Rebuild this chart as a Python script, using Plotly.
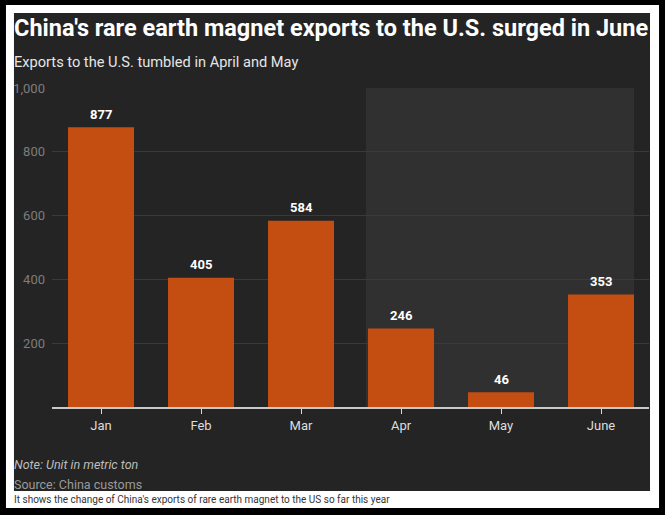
import plotly.graph_objects as go

# values
months = ["Jan", "Feb", "Mar", "Apr", "May", "June"]
exports = [877, 405, 584, 246, 46, 353]
y_ticks = [200, 400, 600, 800, 1000]
y_tick_text = ["200", "400", "600", "800", "1,000"]

BAR = "#C44D12"
PANEL = "#242424"
SHADE = "#303030"

fig = go.Figure()

fig.add_trace(go.Bar(
    x=months,
    y=exports,
    width=0.66,
    marker=dict(color=BAR, line=dict(width=0)),
    hoverinfo="x+y",
    showlegend=False
))

# value labels above bars
for m, v in zip(months, exports):
    fig.add_annotation(
        x=m, y=v, yshift=13, text="<b>%d</b>" % v, showarrow=False,
        font=dict(family="Roboto", size=13, color="white"),
        yanchor="middle"
    )

# white card and dark panel behind everything
fig.add_shape(type="rect", xref="paper", yref="paper",
              x0=-0.0771, x1=1.0168, y0=-0.3166, y1=1.2602,
              fillcolor="white", line_width=0, layer="below")
fig.add_shape(type="rect", xref="paper", yref="paper",
              x0=-0.0637, x1=1.0017, y0=-0.2633, y1=1.2351,
              fillcolor=PANEL, line_width=0, layer="below")

# highlighted period Apr-June
fig.add_shape(type="rect", xref="x", yref="y",
              x0=2.65, x1=5.33, y0=0, y1=1000,
              fillcolor=SHADE, line_width=0, layer="below")

def note(y, text, size, color, italic=False):
    fig.add_annotation(
        xref="paper", yref="paper", x=-0.067, y=y, xanchor="left", yanchor="middle",
        text=text, showarrow=False,
        font=dict(family="Roboto", size=size, color=color,
                  style="italic" if italic else "normal")
    )

note(1.188, "<b>China's rare earth magnet exports to the U.S. surged in June</b>", 23.5, "white")
note(1.0815, "Exports to the U.S. tumbled in April and May", 14.6, "#e6e6e6")
note(-0.1818, "Note: Unit in metric ton", 12.5, "#bdbdbd", italic=True)
note(-0.2414, "Source: China customs", 12.5, "#9a9a9a")
note(-0.2915, "It shows the change of China's exports of rare earth magnet to the US so far this year", 10, "#333333")

fig.update_layout(
    width=665, height=515,
    margin=dict(l=52, r=16, t=88, b=108),
    paper_bgcolor="black",
    plot_bgcolor="rgba(0,0,0,0)",
    font=dict(family="Roboto"),
    bargap=0.34
)

fig.update_xaxes(
    range=[-0.49, 5.48],
    showgrid=False,
    showline=True, linecolor="#c9c9c9", linewidth=2,
    ticks="outside", ticklen=5, tickcolor="#dddddd", tickwidth=1,
    tickfont=dict(size=13, color="#dddddd"),
    fixedrange=True
)

fig.update_yaxes(
    range=[0, 1000],
    tickvals=y_ticks, ticktext=y_tick_text,
    showgrid=True, gridcolor="#3a3a3a", gridwidth=1,
    zeroline=False,
    tickfont=dict(size=13, color="#7d7d7d"),
    ticklabelstandoff=6,
    fixedrange=True
)

# page body has a default 8px margin; drop it so the figure sits at the window corner
fig.write_html(
    "out.html",
    config={"displayModeBar": False},
    post_script="document.body.style.margin='0';document.body.style.background='black';"
)
